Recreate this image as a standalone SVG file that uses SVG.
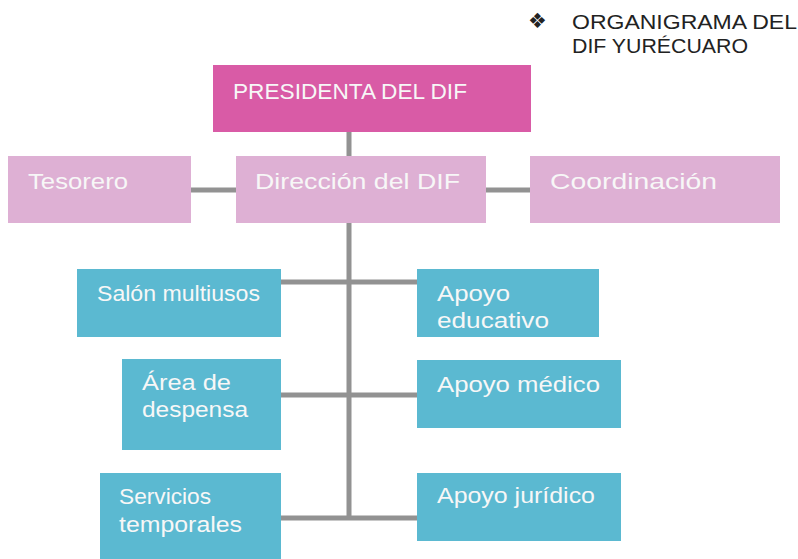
<svg xmlns="http://www.w3.org/2000/svg" width="798" height="559" viewBox="0 0 798 559">
<style>
.t{font-family:"Liberation Sans","DejaVu Sans",sans-serif;fill:#F7F7F7;font-size:22px}
.pk{fill:#D95BA6}
.lp{fill:#DEB0D4}
.bl{fill:#5BB9D1}
.ln{stroke:#929292;stroke-width:5;fill:none}
.ti{font-family:"Liberation Sans","DejaVu Sans",sans-serif;fill:#222;font-size:21px}
</style>
<rect width="798" height="559" fill="#fff"/>
<g id="title">
<text x="528" y="28" class="ti" font-size="16">❖</text>
<text x="572" y="29" class="ti" textLength="225" lengthAdjust="spacingAndGlyphs">ORGANIGRAMA DEL</text>
<text x="572" y="53" class="ti" textLength="176" lengthAdjust="spacingAndGlyphs">DIF YURÉCUARO</text>
</g>
<g id="connectors">
<line class="ln" x1="349" y1="132" x2="349" y2="520"/>
<line class="ln" x1="191" y1="190" x2="236" y2="190"/>
<line class="ln" x1="486" y1="190" x2="530" y2="190"/>
<line class="ln" x1="281" y1="282" x2="417" y2="282"/>
<line class="ln" x1="281" y1="395" x2="417" y2="395"/>
<line class="ln" x1="281" y1="518" x2="417" y2="518"/>
</g>
<g id="presidenta">
<rect class="pk" x="213" y="65" width="318" height="67"/>
<text class="t" x="233" y="99" font-size="24" textLength="234" lengthAdjust="spacingAndGlyphs">PRESIDENTA DEL DIF</text>
</g>
<g id="tesorero">
<rect class="lp" x="8" y="156" width="183" height="67"/>
<text class="t" x="28" y="189" font-size="24" textLength="100" lengthAdjust="spacingAndGlyphs">Tesorero</text>
</g>
<g id="direccion">
<rect class="lp" x="236" y="156" width="250" height="67"/>
<text class="t" x="255" y="189" font-size="24" textLength="205" lengthAdjust="spacingAndGlyphs">Dirección del DIF</text>
</g>
<g id="coordinacion">
<rect class="lp" x="530" y="156" width="250" height="67"/>
<text class="t" x="550" y="189" font-size="24" textLength="167" lengthAdjust="spacingAndGlyphs">Coordinación</text>
</g>
<g id="salon">
<rect class="bl" x="77" y="269" width="204" height="68"/>
<text class="t" x="97" y="301" textLength="163" lengthAdjust="spacingAndGlyphs">Salón multiusos</text>
</g>
<g id="educativo">
<rect class="bl" x="417" y="269" width="182" height="68"/>
<text class="t" x="437" y="301" textLength="73" lengthAdjust="spacingAndGlyphs">Apoyo</text>
<text class="t" x="437" y="328" textLength="112" lengthAdjust="spacingAndGlyphs">educativo</text>
</g>
<g id="despensa">
<rect class="bl" x="122" y="359" width="159" height="91"/>
<text class="t" x="142" y="390" textLength="89" lengthAdjust="spacingAndGlyphs">Área de</text>
<text class="t" x="142" y="417" textLength="106" lengthAdjust="spacingAndGlyphs">despensa</text>
</g>
<g id="medico">
<rect class="bl" x="417" y="360" width="204" height="68"/>
<text class="t" x="437" y="392" textLength="163" lengthAdjust="spacingAndGlyphs">Apoyo médico</text>
</g>
<g id="servicios">
<rect class="bl" x="100" y="473" width="181" height="86"/>
<text class="t" x="119" y="504" textLength="92" lengthAdjust="spacingAndGlyphs">Servicios</text>
<text class="t" x="119" y="532" textLength="123" lengthAdjust="spacingAndGlyphs">temporales</text>
</g>
<g id="juridico">
<rect class="bl" x="417" y="473" width="204" height="68"/>
<text class="t" x="437" y="503" textLength="158" lengthAdjust="spacingAndGlyphs">Apoyo jurídico</text>
</g>
</svg>
